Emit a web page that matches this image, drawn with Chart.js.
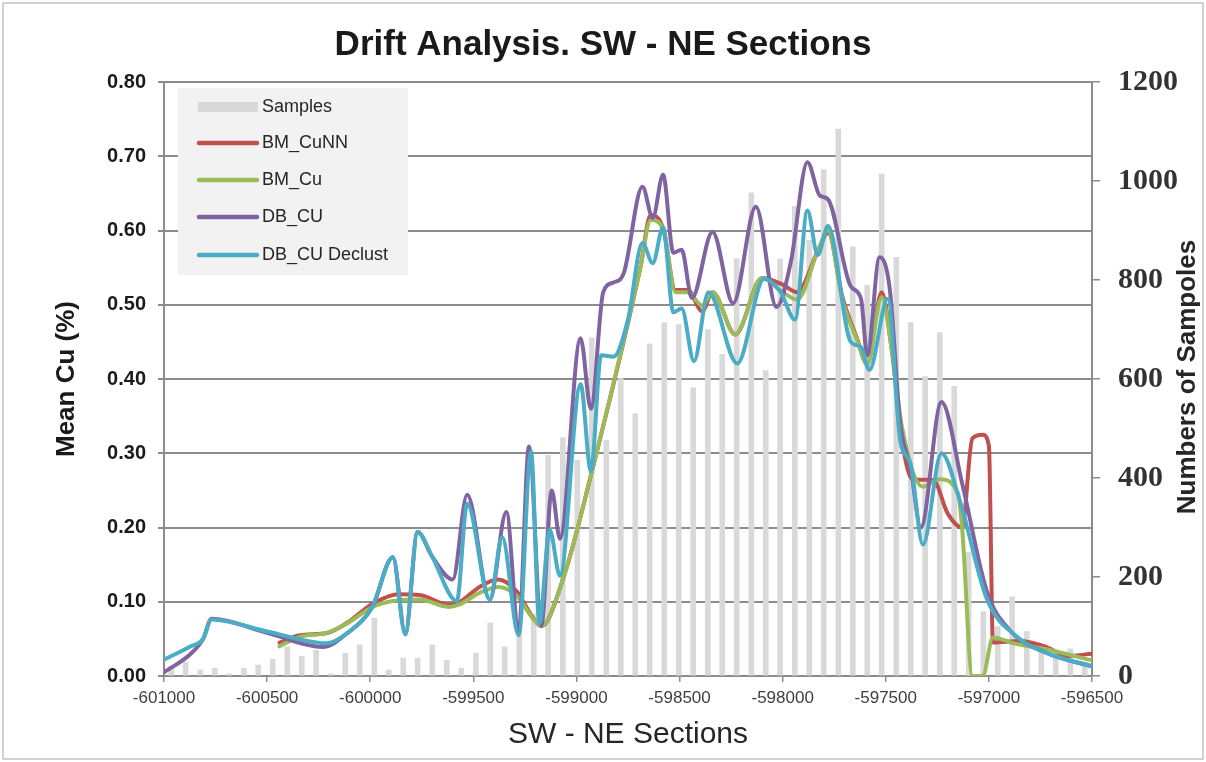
<!DOCTYPE html>
<html>
<head>
<meta charset="utf-8">
<script src="https://cdn.jsdelivr.net/npm/chart.js@4.4.0/dist/chart.umd.min.js"></script>
<style>
html,body{margin:0;padding:0;background:#fff;}
#wrap{width:1206px;height:762px;position:relative;}
canvas{display:block;}
</style>
</head>
<body>
<div id="wrap"><canvas id="c" width="1206" height="762"></canvas></div>
<script>
// ---------- DATA ----------
const chartTitle = 'Drift Analysis. SW - NE Sections';
const xAxisTitle = 'SW - NE Sections';
const yLeftTitle = 'Mean Cu (%)';
const yRightTitle = 'Numbers of Sampoles';
const seriesNames = ['Samples', 'BM_CuNN', 'BM_Cu', 'DB_CU', 'DB_CU Declust'];

// Samples histogram (bin centres along section, counts)
const sampleSections = [-600965,-600895,-600824,-600754,-600684,-600613,-600543,-600473,-600402,-600332,
  -600262,-600191,-600121,-600051,-599980,-599910,-599840,-599770,-599699,-599629,
  -599559,-599488,-599418,-599348,-599277,-599207,-599137,-599066,-598996,-598926,
  -598855,-598785,-598715,-598645,-598574,-598504,-598434,-598363,-598293,-598223,
  -598152,-598082,-598012,-597941,-597871,-597801,-597730,-597660,-597590,-597520,
  -597449,-597379,-597309,-597238,-597168,-597098,-597027,-596957,-596887,-596816,
  -596746,-596676,-596605,-596535];
const sampleCounts = [20,28,12,16,4,16,22,34,59,40,
  52,4,46,63,117,12,36,36,63,32,
  16,46,107,59,90,125,446,481,436,683,
  476,601,530,671,714,710,582,700,650,843,
  976,617,843,949,880,1023,1105,867,789,1014,
  846,714,605,694,585,250,130,100,160,90,
  60,45,55,28];

// BM_CuNN
const bmCuNNSections = [-600440,-600340,-600210,-600110,-599990,-599860,-599760,-599620,-599570,-599470,
  -599380,-599290,-599210,-599170,-599060,-598930,-598690,-598640,-598580,-598520,
  -598460,-598390,-598340,-598230,-598100,-598000,-597930,-597830,-597780,-597710,
  -597640,-597590,-597520,-597470,-597420,-597370,-597270,-597200,-597130,-597080,
  -597030,-597000,-596980,-596850,-596720,-596620,-596500];
const bmCuNNValues = [0.045,0.055,0.058,0.072,0.097,0.110,0.109,0.096,0.099,0.120,
  0.130,0.114,0.078,0.067,0.135,0.270,0.550,0.621,0.603,0.520,
  0.520,0.491,0.517,0.460,0.536,0.527,0.517,0.572,0.597,0.510,
  0.455,0.420,0.517,0.437,0.315,0.265,0.264,0.219,0.200,0.320,
  0.325,0.310,0.045,0.047,0.039,0.027,0.030];

// BM_Cu
const bmCuSections = [-600440,-600340,-600210,-600110,-599990,-599860,-599760,-599620,-599570,-599470,
  -599380,-599290,-599210,-599170,-599060,-598930,-598690,-598640,-598580,-598520,
  -598460,-598390,-598340,-598230,-598100,-598000,-597930,-597830,-597780,-597710,
  -597640,-597590,-597520,-597470,-597420,-597320,-597240,-597150,-597130,-597080,
  -597030,-596980,-596880,-596720,-596500];
const bmCuValues = [0.040,0.053,0.058,0.071,0.093,0.102,0.103,0.093,0.096,0.112,
  0.120,0.108,0.077,0.068,0.135,0.270,0.550,0.614,0.603,0.517,
  0.517,0.499,0.517,0.460,0.536,0.517,0.507,0.572,0.600,0.506,
  0.453,0.420,0.510,0.437,0.333,0.255,0.265,0.246,0.200,0.000,
  0.000,0.052,0.044,0.036,0.021];

// DB_CU
const dbCuSections = [-601000,-600870,-600810,-600770,-600500,-600230,-600110,-599990,-599890,-599830,
  -599770,-599700,-599600,-599530,-599420,-599340,-599280,-599230,-599170,-599120,
  -599080,-598980,-598930,-598870,-598820,-598770,-598680,-598630,-598580,-598530,
  -598490,-598440,-598340,-598240,-598130,-598030,-597960,-597880,-597820,-597780,
  -597670,-597620,-597590,-597530,-597480,-597430,-597380,-597330,-597230,-597130,
  -597010,-596900,-596720,-596500];
const dbCuValues = [0.005,0.030,0.050,0.077,0.058,0.039,0.058,0.093,0.160,0.058,
  0.194,0.161,0.130,0.244,0.103,0.221,0.060,0.309,0.068,0.250,
  0.185,0.455,0.360,0.517,0.530,0.543,0.659,0.617,0.675,0.570,
  0.574,0.509,0.598,0.502,0.632,0.497,0.558,0.692,0.647,0.642,
  0.525,0.508,0.432,0.564,0.520,0.340,0.281,0.200,0.369,0.260,
  0.114,0.062,0.031,0.013];

// DB_CU Declust
const dbCuDeclSections = [-601000,-600870,-600810,-600770,-600500,-600210,-600110,-599990,-599890,-599830,
  -599770,-599700,-599580,-599530,-599420,-599360,-599280,-599220,-599180,-599130,
  -599080,-598980,-598930,-598880,-598820,-598750,-598680,-598630,-598580,-598530,
  -598490,-598430,-598360,-598220,-598090,-598010,-597940,-597880,-597830,-597780,
  -597670,-597620,-597580,-597490,-597430,-597380,-597320,-597230,-597140,-597010,
  -596860,-596720,-596500];
const dbCuDeclValues = [0.022,0.040,0.050,0.076,0.060,0.044,0.058,0.093,0.160,0.056,
  0.194,0.161,0.101,0.232,0.103,0.187,0.055,0.302,0.071,0.197,
  0.135,0.393,0.276,0.432,0.430,0.480,0.583,0.556,0.604,0.490,
  0.495,0.424,0.517,0.421,0.535,0.517,0.480,0.627,0.567,0.606,
  0.450,0.443,0.412,0.508,0.317,0.286,0.177,0.300,0.235,0.104,
  0.052,0.031,0.013];

const xMin = -601000, xMax = -596500, xStep = 500;
const yMin = 0, yMax = 0.8, yStep = 0.1;
const y2Min = 0, y2Max = 1200, y2Step = 200;

// ---------- STYLE ----------
const colors = { Samples:'#d9d9d9', BM_CuNN:'#c0504d', BM_Cu:'#9bbb59', DB_CU:'#8064a2', 'DB_CU Declust':'#4bacc6' };
const gridGrey = '#8c8c8c';
const pair = (xs, ys) => xs.map((x, i) => ({ x: x, y: ys[i] }));

function lineDs(label, xs, ys, order) {
  return {
    type: 'line', label: label, data: pair(xs, ys), yAxisID: 'y', xAxisID: 'x',
    borderColor: colors[label], backgroundColor: colors[label], borderWidth: 4,
    pointRadius: 0, pointHoverRadius: 0, fill: false,
    cubicInterpolationMode: 'monotone', borderCapStyle: 'round', borderJoinStyle: 'round',
    order: order
  };
}

const datasets = [
  { type: 'bar', label: seriesNames[0], data: pair(sampleSections, sampleCounts), yAxisID: 'y2', xAxisID: 'x',
    backgroundColor: colors.Samples, borderWidth: 0, barThickness: 5, order: 10 },
  lineDs(seriesNames[1], bmCuNNSections, bmCuNNValues, 3),
  lineDs(seriesNames[2], bmCuSections, bmCuValues, 2),
  lineDs(seriesNames[3], dbCuSections, dbCuValues, 1),
  lineDs(seriesNames[4], dbCuDeclSections, dbCuDeclValues, 0)
];

// custom legend box + frame + rotated right title
const overlayPlugin = {
  id: 'overlay',
  afterDraw(chart) {
    const ctx = chart.ctx;
    const ca = chart.chartArea;
    ctx.save();
    // outer frame
    ctx.strokeStyle = '#c4c4c4';
    ctx.lineWidth = 1.5;
    ctx.strokeRect(3, 3, chart.width - 6, chart.height - 6);
    // right axis title (reads bottom to top)
    ctx.save();
    ctx.translate(ca.right + 96, (ca.top + ca.bottom) / 2 - 2);
    ctx.rotate(-Math.PI / 2);
    ctx.font = 'bold 26px "Liberation Sans", Arial, sans-serif';
    ctx.fillStyle = '#262626';
    ctx.textAlign = 'center';
    ctx.textBaseline = 'middle';
    ctx.fillText(yRightTitle, 0, 0);
    ctx.restore();
    // legend
    const bx = ca.left + 14, by = ca.top + 6, bw = 230, bh = 187;
    ctx.fillStyle = '#f2f2f2';
    ctx.fillRect(bx, by, bw, bh);
    const offs = [19, 55, 92, 129, 167];
    ctx.font = '18px "Liberation Sans", Arial, sans-serif';
    ctx.textAlign = 'left';
    ctx.textBaseline = 'middle';
    chart.data.datasets.forEach((ds, i) => {
      const yy = by + offs[i];
      if (ds.type === 'bar') {
        ctx.fillStyle = ds.backgroundColor;
        ctx.fillRect(bx + 20, yy - 5, 60, 10);
      } else {
        ctx.strokeStyle = ds.borderColor;
        ctx.lineWidth = 4.5;
        ctx.lineCap = 'round';
        ctx.beginPath();
        ctx.moveTo(bx + 21, yy);
        ctx.lineTo(bx + 79, yy);
        ctx.stroke();
      }
      ctx.fillStyle = '#262626';
      ctx.fillText(ds.label, bx + 84, yy);
    });
    ctx.restore();
  }
};

Chart.defaults.font.family = '"Liberation Sans", Arial, sans-serif';

new Chart(document.getElementById('c'), {
  type: 'line',
  data: { datasets: datasets },
  plugins: [overlayPlugin],
  options: {
    responsive: false,
    animation: false,
    devicePixelRatio: 1,
    layout: { padding: { top: 6, left: 0, right: 0, bottom: 0 } },
    plugins: {
      legend: { display: false },
      tooltip: { enabled: false },
      title: {
        display: true, text: chartTitle, color: '#1a1a1a',
        font: { size: 35, weight: 'bold' }, padding: { top: 18, bottom: 16 }
      }
    },
    scales: {
      x: {
        type: 'linear', position: 'bottom', min: xMin, max: xMax, offset: false,
        ticks: { stepSize: xStep, autoSkip: false, maxRotation: 0, minRotation: 0, padding: 6,
          color: '#404040', font: { size: 17 }, callback: v => String(v) },
        grid: { display: true, drawOnChartArea: false, drawTicks: true, tickLength: 6, color: gridGrey, lineWidth: 1.5, offset: false },
        border: { display: true, color: gridGrey, width: 2 },
        title: { display: true, text: xAxisTitle, color: '#262626', font: { size: 30 }, padding: { top: 0, bottom: 9 } },
        afterFit: s => { s.height = 86; }
      },
      y: {
        position: 'left', min: yMin, max: yMax,
        ticks: { stepSize: yStep, padding: 12, color: '#1a1a1a', font: { size: 20, weight: 'bold' },
          callback: v => Number(v).toFixed(2) },
        grid: { color: gridGrey, lineWidth: 2, drawTicks: true, tickLength: 6 },
        border: { display: true, color: gridGrey, width: 2 },
        title: { display: true, text: yLeftTitle, color: '#1a1a1a', font: { size: 26, weight: 'bold' }, padding: { top: 51, bottom: 0 } },
        afterFit: s => { s.width = 164; }
      },
      y2: {
        position: 'right', min: y2Min, max: y2Max,
        ticks: { stepSize: y2Step, padding: 18, color: '#333333',
          font: { family: '"Liberation Serif", "Times New Roman", serif', size: 30, weight: 'bold' },
          callback: v => String(v) },
        grid: { drawOnChartArea: false, drawTicks: true, tickLength: 8, color: gridGrey, lineWidth: 1.5 },
        border: { display: true, color: gridGrey, width: 2 },
        afterFit: s => { s.width = 114; }
      }
    }
  }
});
</script>
</body>
</html>
